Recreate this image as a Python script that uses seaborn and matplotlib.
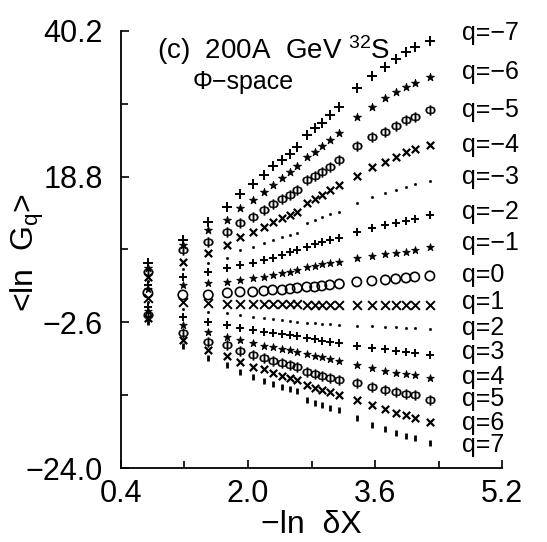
import numpy as np
import pandas as pd
import matplotlib
matplotlib.use('Agg')
import matplotlib.pyplot as plt
from matplotlib import font_manager
import seaborn as sns
from matplotlib.ticker import FixedLocator, FuncFormatter

# -ln dX of each resolution column
ln_dx = [0.74, 1.18, 1.50, 1.74, 1.90, 2.06, 2.20, 2.31, 2.43, 2.53, 2.62,
         2.74, 2.84, 2.93, 3.03, 3.15,
         3.37, 3.56, 3.73, 3.86, 3.99, 4.10, 4.29]

q_values = [-7, -6, -5, -4, -3, -2, -1, 0, 1, 2, 3, 4, 5, 6, 7]

# <ln G_q>, one list per q
lnG_qm7 = [6.12, 9.50, 12.14, 14.34, 16.25, 17.72, 19.04, 20.37, 21.25, 22.13, 23.16,
           24.92, 25.95, 26.68, 27.86, 29.03, 31.83, 33.59, 34.91, 36.09, 37.12, 37.85, 38.73]
lnG_qm6 = [5.38, 8.76, 10.97, 12.43, 14.20, 15.37, 16.55, 17.58, 18.60, 19.49, 20.37,
           21.69, 22.42, 23.31, 24.19, 25.22, 27.57, 29.03, 30.36, 31.24, 31.97, 32.56, 33.44]
lnG_qm5 = [4.79, 8.03, 9.20, 10.67, 11.99, 12.88, 13.90, 14.78, 15.52, 16.11, 16.84,
           18.31, 18.90, 19.49, 20.22, 21.25, 23.31, 24.63, 25.36, 26.24, 27.13, 27.57, 28.59]
lnG_qm4 = [4.06, 6.26, 7.59, 8.76, 9.94, 10.67, 11.41, 12.14, 12.73, 13.17, 13.61,
           14.93, 15.52, 16.11, 16.84, 17.58, 18.90, 20.22, 20.95, 21.69, 22.42, 22.86, 23.45]
lnG_qm3 = [3.47, 5.24, 6.12, 6.85, 8.03, 8.47, 9.06, 9.50, 9.94, 10.23, 10.52,
           11.99, 12.43, 12.88, 13.32, 13.61, 14.93, 15.81, 16.40, 16.84, 17.28, 17.72, 18.16]
lnG_qm2 = [2.89, 4.06, 4.79, 5.38, 5.82, 6.12, 6.56, 6.85, 7.29, 7.73, 8.03,
           8.47, 8.91, 9.20, 9.50, 9.79, 10.67, 11.26, 11.70, 11.99, 12.29, 12.58, 13.17]
lnG_qm1 = [2.30, 2.89, 3.18, 3.33, 3.62, 3.91, 4.06, 4.35, 4.65, 4.79, 5.09,
           5.53, 5.68, 5.97, 6.12, 6.26, 6.85, 7.15, 7.44, 7.59, 7.73, 8.03, 8.47]
lnG_q0 = [1.71, 1.42, 1.42, 1.71, 1.86, 1.86, 2.00, 2.15, 2.15, 2.30, 2.44,
          2.59, 2.59, 2.74, 2.89, 3.03, 3.33, 3.47, 3.62, 3.77, 3.91, 4.06, 4.21]
lnG_q1 = [0.98, 0.39, 0.24, 0.09, 0.09, 0.09, 0.09, 0.09, 0.09, 0.09, 0.09,
          -0.05, -0.05, -0.05, -0.05, -0.05, -0.05, -0.05, -0.05, -0.05, -0.05, -0.05, -0.05]
lnG_q2 = [0.39, -0.64, -1.08, -1.23, -1.52, -1.82, -1.96, -2.11, -2.26, -2.40, -2.55,
          -2.70, -2.70, -2.85, -2.85, -2.99, -3.14, -3.14, -3.29, -3.29, -3.43, -3.43, -3.58]
lnG_q3 = [-0.35, -1.82, -2.55, -2.99, -3.43, -3.73, -4.02, -4.17, -4.31, -4.46, -4.61,
          -4.90, -5.05, -5.34, -5.49, -5.64, -6.08, -6.37, -6.52, -6.81, -6.96, -7.11, -7.40]
lnG_q4 = [-0.94, -2.99, -4.02, -4.76, -5.20, -5.64, -6.08, -6.22, -6.52, -6.66, -6.96,
          -7.25, -7.55, -7.69, -7.99, -8.28, -8.87, -9.31, -9.75, -10.04, -10.19, -10.34, -10.78]
lnG_q5 = [-1.52, -4.17, -5.49, -5.93, -6.81, -7.40, -7.84, -8.28, -8.58, -8.87, -9.16,
          -9.90, -10.19, -10.49, -10.78, -11.07, -11.51, -12.10, -12.54, -12.84, -13.13, -13.28, -14.01]
lnG_q6 = [-1.96, -5.20, -6.66, -7.55, -8.43, -9.16, -9.46, -10.04, -10.49, -10.78, -11.07,
          -11.81, -12.25, -12.54, -12.84, -13.28, -14.01, -14.75, -15.33, -15.92, -16.21, -16.66, -17.24]
lnG_q7 = [-2.55, -6.08, -7.84, -8.87, -9.90, -10.63, -11.22, -11.66, -12.10, -12.39, -12.69,
          -14.01, -14.45, -14.75, -15.19, -15.48, -16.66, -17.68, -18.27, -18.86, -19.30, -19.59, -20.33]

all_rows = [lnG_qm7, lnG_qm6, lnG_qm5, lnG_qm4, lnG_qm3, lnG_qm2, lnG_qm1, lnG_q0,
            lnG_q1, lnG_q2, lnG_q3, lnG_q4, lnG_q5, lnG_q6, lnG_q7]

x_ticks = [0.4, 2.0, 3.6, 5.2]
y_ticks = [-24.0, -2.6, 18.8, 40.2]

df = pd.DataFrame([
    {'q': q, 'x': x, 'lnG': v}
    for q, row in zip(q_values, all_rows)
    for x, v in zip(ln_dx, row)
])

PHI = r'$\Phi$'
marker_styles = {
    -7: dict(marker='+', s=42, linewidth=1.4),
    -6: dict(marker='*', s=36, linewidth=0.6),
    -5: dict(marker=PHI, s=50, linewidth=0.3),
    -4: dict(marker='x', s=28, linewidth=1.6),
    -3: dict(marker='.', s=10, linewidth=0.5),
    -2: dict(marker='+', s=36, linewidth=1.4),
    -1: dict(marker='*', s=32, linewidth=0.6),
    0: dict(marker='o', s=45, linewidth=1.2, facecolor='none'),
    1: dict(marker='x', s=40, linewidth=1.4),
    2: dict(marker='.', s=10, linewidth=0.5),
    3: dict(marker='+', s=36, linewidth=1.4),
    4: dict(marker='*', s=32, linewidth=0.6),
    5: dict(marker=PHI, s=50, linewidth=0.3),
    6: dict(marker='x', s=28, linewidth=1.6),
    7: dict(marker='|', s=18, linewidth=2.0),
}

# pick a narrow sans face if one is there
installed = {f.name for f in font_manager.fontManager.ttflist}
narrow = [n for n in ['Liberation Sans Narrow', 'DejaVu Sans Condensed', 'Liberation Sans']
          if n in installed]

sns.set_style('ticks')
plt.rcParams['font.family'] = narrow[:1] + ['DejaVu Sans']
plt.rcParams['mathtext.fontset'] = 'custom'
plt.rcParams['mathtext.rm'] = plt.rcParams['font.family'][0]
plt.rcParams['mathtext.it'] = plt.rcParams['font.family'][0]
for key in ['text.color', 'axes.labelcolor', 'xtick.color', 'ytick.color', 'axes.edgecolor']:
    plt.rcParams[key] = 'black'

fig = plt.figure(figsize=(5.47, 5.42), dpi=100)
ax = fig.add_axes([0.221, 0.1365, 0.697, 0.8065])

for q in q_values:
    sub = df[df['q'] == q]
    kw = dict(marker_styles[q])
    kw.setdefault('facecolor', 'black')
    sns.scatterplot(data=sub, x='x', y='lnG', color='black', edgecolor='black',
                    legend=False, ax=ax, **kw)

fmt = FuncFormatter(lambda v, pos: f'{v:.1f}'.replace('-', '\u2212'))
ax.set_xlim(0.4, 5.2)
ax.set_ylim(-24.0, 40.2)
ax.xaxis.set_major_locator(FixedLocator(x_ticks))
ax.xaxis.set_minor_locator(FixedLocator([1.2, 2.8, 4.4]))
ax.yaxis.set_major_locator(FixedLocator(y_ticks))
ax.yaxis.set_minor_locator(FixedLocator([-13.3, 8.1, 29.5]))
ax.xaxis.set_major_formatter(fmt)
ax.yaxis.set_major_formatter(fmt)
ax.tick_params(which='both', direction='in', width=1.2, labelsize=22)
ax.tick_params(which='major', length=6)
ax.tick_params(which='minor', length=5)
ax.tick_params(axis='y', pad=13)
ax.tick_params(axis='x', pad=8)
ax.set_xlabel('')
ax.set_ylabel('')
sns.despine(ax=ax)
for sp in ['left', 'bottom']:
    ax.spines[sp].set_linewidth(1.3)

# q labels on the right
label_y = [0.995, 0.906, 0.819, 0.739, 0.666, 0.586, 0.515, 0.442,
           0.380, 0.320, 0.265, 0.208, 0.158, 0.103, 0.053]
for q, ly in zip(q_values, label_y):
    ax.text(0.895, ly, f'q={q}'.replace('-', '\u2212'), transform=ax.transAxes,
            fontsize=18, ha='left', va='center')

ax.text(0.094, 0.995, '(c)  200A  GeV $^{32}$S', transform=ax.transAxes,
        fontsize=20, ha='left', va='top')
ax.text(0.189, 0.91, '\u03a6\u2212space', transform=ax.transAxes,
        fontsize=18, ha='left', va='top')

fig.text(0.569, 0.031, '\u2212ln  \u03b4X', fontsize=23, ha='center', va='center')
fig.text(0.05, 0.535, '<ln  G$_{\\mathrm{q}}$>', fontsize=23, ha='center', va='center',
         rotation=90)

fig.savefig('out.png', dpi=100)
